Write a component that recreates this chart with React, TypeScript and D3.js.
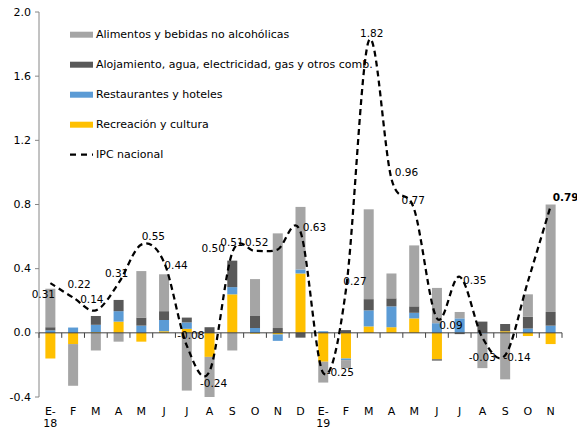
import * as d3 from 'd3';

// meses (E = enero)
const months = ['E-18', 'F', 'M', 'A', 'M', 'J', 'J', 'A', 'S', 'O', 'N', 'D',
  'E-19', 'F', 'M', 'A', 'M', 'J', 'J', 'A', 'S', 'O', 'N'];

const seriesNames = [
  'Alimentos y bebidas no alcohólicas',
  'Alojamiento, agua, electricidad, gas y otros comb.',
  'Restaurantes y hoteles',
  'Recreación y cultura',
];

const recreacion = [-0.16, -0.07, 0.005, 0.07, -0.055, 0.01, 0.025, -0.15, 0.24, -0.005, -0.01, 0.37,
  -0.18, -0.16, 0.04, 0.035, 0.09, -0.165, 0, 0, 0.01, -0.02, -0.07];
const restaurantes = [0.015, 0.033, 0.045, 0.065, 0.045, 0.07, 0.04, 0, 0.045, 0.03, -0.04, 0.025,
  0.01, -0.01, 0.1, 0.13, 0.035, 0.06, 0.09, -0.005, 0, 0.027, 0.045];
const alojamiento = [0.02, 0, 0.055, 0.07, 0.05, 0.055, 0.03, 0.035, 0.165, 0.075, 0.03, -0.03,
  0, 0.017, 0.07, 0.05, 0.04, -0.008, -0.008, 0.07, 0.045, 0.073, 0.085];
const alimentos = [0.24, -0.26, -0.11, -0.055, 0.29, 0.23, -0.36, -0.25, -0.11, 0.23, 0.59, 0.39,
  -0.13, -0.05, 0.56, 0.155, 0.38, 0.22, 0.04, -0.215, -0.29, 0.14, 0.67];

const ipc = [0.31, 0.22, 0.14, 0.31, 0.55, 0.44, -0.08, -0.24, 0.50, 0.51, 0.52, 0.63,
  -0.25, 0.27, 1.82, 0.96, 0.77, 0.09, 0.35, -0.03, -0.14, 0.32, 0.79];
const ipcLabels = ['0.31', '0.22', '0.14', '0.31', '0.55', '0.44', '-0.08', '-0.24', '0.50', '0.51', '0.52', '0.63',
  '-0.25', '0.27', '1.82', '0.96', '0.77', '0.09', '0.35', '-0.03', '-0.14', '', '0.79'];

const yTicks = [-0.4, 0.0, 0.4, 0.8, 1.2, 1.6, 2.0];

const W = 577;
const H = 429;
const FONT = 'DejaVu Sans, Verdana, sans-serif';

// posición de cada etiqueta respecto a su punto (como en el original)
const labelOffsets: [number, number][] = [
  [-7, 11], [6, -14], [-4, -11], [-2, -10.5], [12, -9], [12, 3], [4, -11], [4, 12], [-19, -5], [-23, -9], [-21, -7.5], [14, -5],
  [17, -1], [9, -9], [3, -7.6], [15, -6.6], [-1, -9.4], [14, 6.4], [15, 3], [0, 19.5], [12, 2], [0, 0], [15, -9.5],
];

export default function App() {
  const x = d3.scaleBand<number>()
    .domain(months.map((_, i) => i))
    .range([39, 562])
    .paddingInner(0.56)
    .paddingOuter(0.28);
  const y = d3.scaleLinear().domain([-0.4, 2.0]).range([397, 12]);

  // orden de apilado de Excel: la primera serie va junto al eje
  const rows = months.map((_, i) => ({
    rec: recreacion[i], rest: restaurantes[i], aloj: alojamiento[i], alim: alimentos[i],
  }));
  const keys = ['rec', 'rest', 'aloj', 'alim'] as const;
  const colors: Record<string, string> = { rec: '#FFC000', rest: '#5B9BD5', aloj: '#595959', alim: '#A5A5A5' };
  const stacked = d3.stack<any>().keys(keys as any).offset(d3.stackOffsetDiverging)(rows);

  const bw = x.bandwidth();
  const cx = (i: number) => (x(i) as number) + bw / 2;

  const line = d3.line<number>()
    .x((_, i) => cx(i))
    .y(d => y(d))
    .curve(d3.curveCardinal.tension(0));

  const step = x.step();
  const boundaries = d3.range(months.length + 1).map(k => 39 + k * step);

  const legendItems = [
    { name: seriesNames[0], color: colors.alim },
    { name: seriesNames[1], color: colors.aloj },
    { name: seriesNames[2], color: colors.rest },
    { name: seriesNames[3], color: colors.rec },
  ];

  return (
    <svg width={W} height={H} style={{ position: 'absolute', left: 0, top: 0, background: '#fff' }}
      fontFamily={FONT}>
      {/* barras */}
      {stacked.map(s => (
        <g key={s.key} fill={colors[s.key]}>
          {s.map((d, i) => {
            const y0 = y(d[0]);
            const y1 = y(d[1]);
            const h = Math.abs(y0 - y1);
            if (h < 0.01) return null;
            return <rect key={i} x={x(i)} y={Math.min(y0, y1)} width={bw} height={h} />;
          })}
        </g>
      ))}

      {/* eje Y */}
      <line x1={39} x2={39} y1={y(2.0)} y2={y(-0.4)} stroke="#868686" strokeWidth={1} />
      {yTicks.map(t => (
        <g key={t}>
          <line x1={35} x2={39} y1={y(t)} y2={y(t)} stroke="#868686" />
          <text x={31} y={y(t)} textAnchor="end" dominantBaseline="central" fontSize={11} fill="#000">
            {t.toFixed(1)}
          </text>
        </g>
      ))}

      {/* eje X en cero */}
      <line x1={39} x2={562} y1={y(0)} y2={y(0)} stroke="#404040" strokeWidth={1} />
      {boundaries.map((b, k) => (
        <line key={k} x1={b} x2={b} y1={y(0)} y2={y(0) + 5} stroke="#404040" />
      ))}
      {months.map((m, i) => {
        const parts = m.includes('-') ? [m.split('-')[0] + '-', m.split('-')[1]] : [m];
        return (
          <text key={i} x={cx(i)} y={415} textAnchor="middle" fontSize={11} fill="#000">
            {parts.map((p, j) => (
              <tspan key={j} x={cx(i)} dy={j === 0 ? 0 : 12}>{p}</tspan>
            ))}
          </text>
        );
      })}

      {/* IPC nacional */}
      <path d={line(ipc) || ''} fill="none" stroke="#000" strokeWidth={2.25} strokeDasharray="6,4" />
      {ipc.map((v, i) => ipcLabels[i] ? (
        <text key={i} x={cx(i) + labelOffsets[i][0]} y={y(v) + labelOffsets[i][1]}
          textAnchor="middle" dominantBaseline="central" fontSize={10.5}
          fontWeight={i === ipc.length - 1 ? 'bold' : 'normal'} fill="#000">
          {ipcLabels[i]}
        </text>
      ) : null)}

      {/* leyenda */}
      {legendItems.map((it, k) => (
        <g key={k} transform={`translate(70,${34.7 + k * 30})`}>
          <rect x={0} y={-3} width={23} height={6} fill={it.color} />
          <text x={26} y={0} dominantBaseline="central" fontSize={11} fill="#000">{it.name}</text>
        </g>
      ))}
      <g transform={`translate(70,${34.7 + 4 * 30})`}>
        <line x1={0} x2={23} y1={0} y2={0} stroke="#000" strokeWidth={2.25} strokeDasharray="6,5" />
        <text x={26} y={0} dominantBaseline="central" fontSize={11} fill="#000">IPC nacional</text>
      </g>
    </svg>
  );
}
